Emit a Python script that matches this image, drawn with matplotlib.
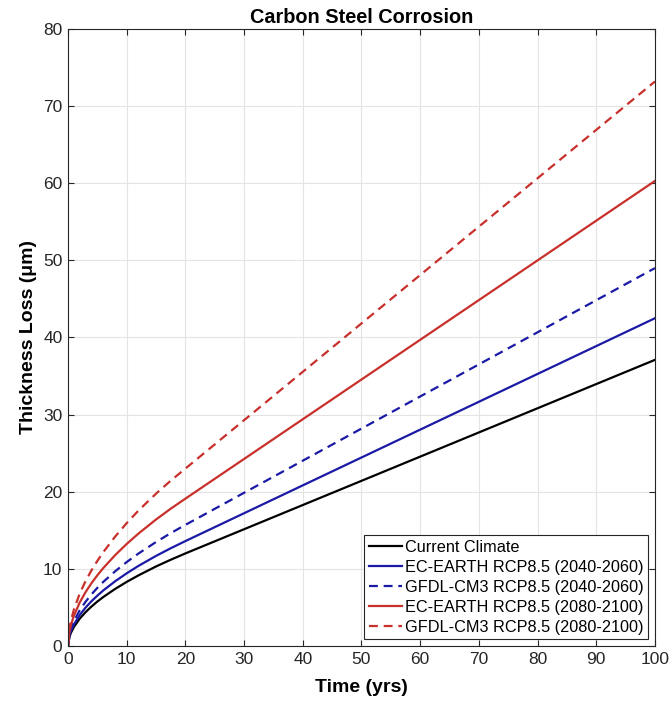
import matplotlib
matplotlib.use("Agg")
import matplotlib.pyplot as plt

plt.rcParams['font.family'] = ['Liberation Sans', 'DejaVu Sans']

t = [0, 0.25, 0.5, 1, 2, 3, 4, 5, 6, 8, 10, 12, 15, 17.5, 20, 100]
current = [0, 1.18, 1.70, 2.45, 3.54, 4.39, 5.11, 5.76, 6.34, 7.38, 8.31, 9.15, 10.31, 11.18, 12.0, 37.1]
ec_mid = [0, 1.33, 1.93, 2.78, 4.01, 4.98, 5.80, 6.52, 7.19, 8.37, 9.42, 10.38, 11.68, 12.67, 13.6, 42.5]
gfdl_mid = [0, 1.54, 2.22, 3.21, 4.63, 5.74, 6.69, 7.53, 8.30, 9.66, 10.88, 11.98, 13.48, 14.63, 15.7, 49.0]
ec_end = [0, 1.87, 2.70, 3.90, 5.64, 6.99, 8.14, 9.16, 10.09, 11.75, 13.23, 14.57, 16.40, 17.80, 19.1, 60.3]
gfdl_end = [0, 2.25, 3.26, 4.70, 6.79, 8.42, 9.80, 11.03, 12.15, 14.15, 15.93, 17.55, 19.75, 21.43, 23.0, 73.2]

labels = ["Current Climate", "EC-EARTH RCP8.5 (2040-2060)", "GFDL-CM3 RCP8.5 (2040-2060)",
          "EC-EARTH RCP8.5 (2080-2100)", "GFDL-CM3 RCP8.5 (2080-2100)"]
xticks = list(range(0, 101, 10))
yticks = list(range(0, 81, 10))

fig = plt.figure(figsize=(6.71, 7.01), dpi=100)
ax = fig.add_axes([0.1013, 0.0785, 0.8748, 0.8801])

blue = '#1a1aa6'
red = '#c8302c'
ax.plot(t, current, color='black', lw=1.6, label=labels[0])
ax.plot(t, ec_mid, color=blue, lw=1.6, label=labels[1])
ax.plot(t, gfdl_mid, color=blue, lw=1.6, ls=(0, (4, 2.6)), label=labels[2])
ax.plot(t, ec_end, color=red, lw=1.6, label=labels[3])
ax.plot(t, gfdl_end, color=red, lw=1.6, ls=(0, (4, 2.6)), label=labels[4])

ax.set_xlim(0, 100)
ax.set_ylim(0, 80)
ax.set_xticks(xticks)
ax.set_yticks(yticks)
ax.grid(True, color='#e4e4e4', lw=0.8)
ax.set_axisbelow(True)
ax.tick_params(direction='in', top=True, right=True, labelsize=12.5, colors='#262626', length=4, pad=4)
for s in ax.spines.values():
    s.set_color('#262626')
    s.set_linewidth(0.8)

ax.set_xlabel('Time (yrs)', fontsize=14, fontweight='bold', labelpad=9)
ax.set_ylabel('Thickness Loss (μm)', fontsize=14, fontweight='bold', labelpad=4)
ax.set_title('Carbon Steel Corrosion', fontsize=14.3, fontweight='bold', pad=4)

leg = ax.legend(loc='lower right', fontsize=11.7, fancybox=False, framealpha=1,
                edgecolor='#262626', handlelength=2.0, handletextpad=0.2,
                borderpad=0.3, labelspacing=0.3, borderaxespad=0.4)
leg.get_frame().set_linewidth(0.8)

fig.savefig('out.png', dpi=100)
